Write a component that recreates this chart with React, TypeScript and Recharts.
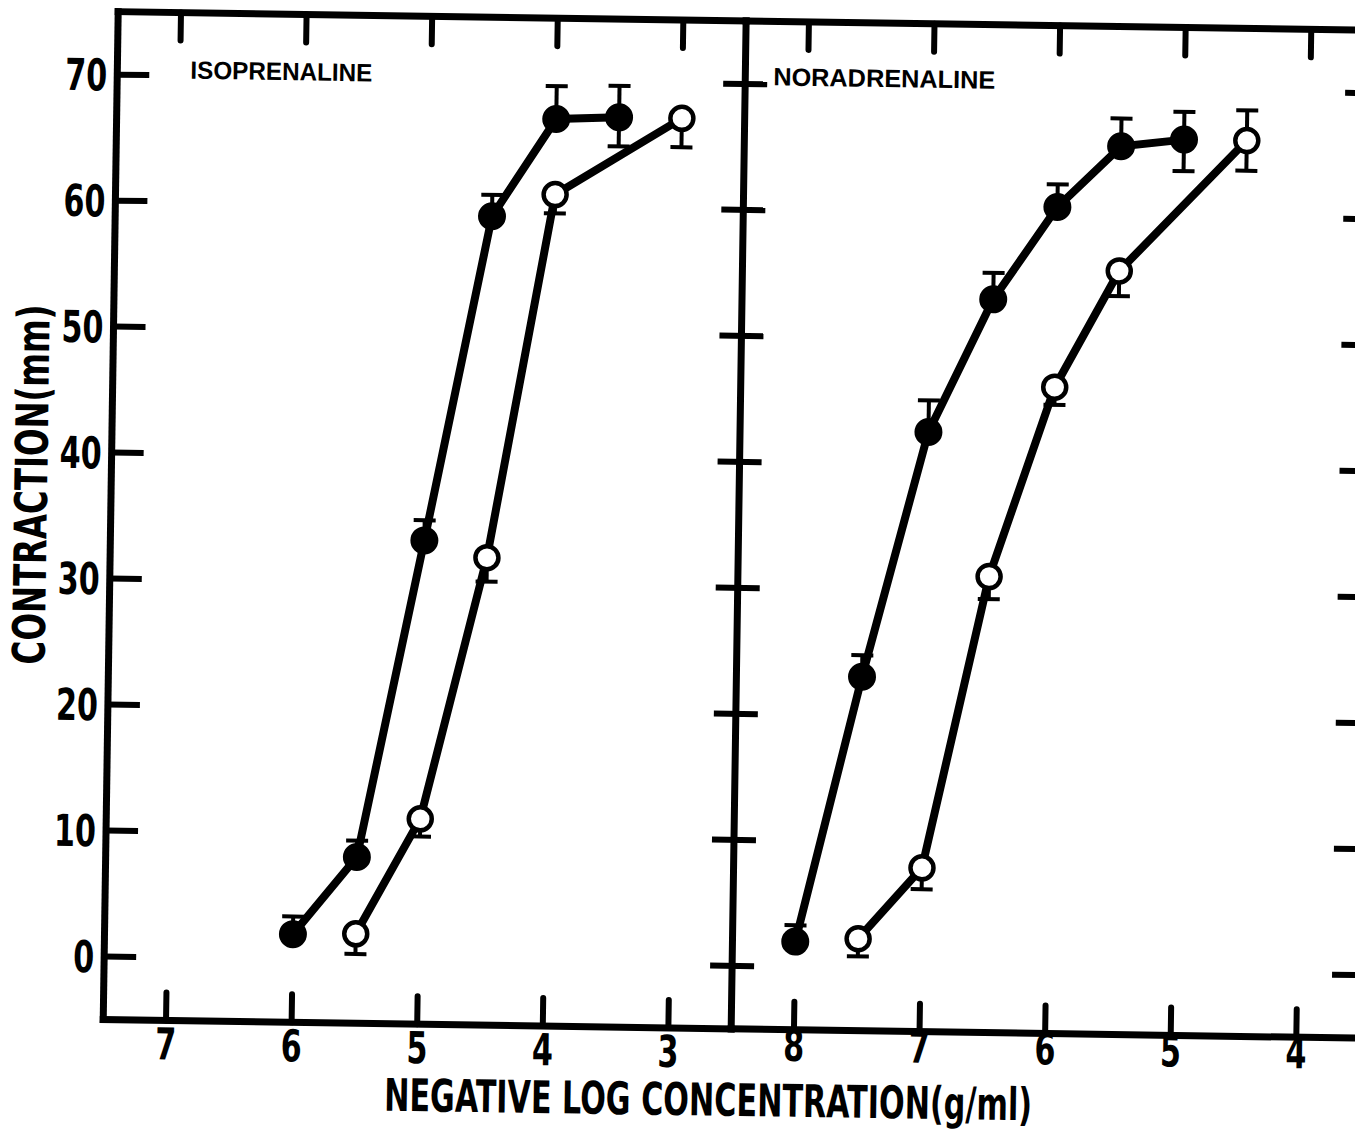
import React from "react";
import { LineChart, Line, XAxis, YAxis, ErrorBar } from "recharts";

// Isoprenaline panel (x = negative log concentration)
const isoFilledConc = [6, 5.5, 5, 4.5, 4, 3.5];
const isoFilledMean = [2.0, 8.2, 33.4, 59.2, 67.0, 67.2];
const isoFilledErrLow = [0, 0, 0, 0, 0, 2.3];
const isoFilledErrHigh = [1.4, 1.3, 1.6, 1.7, 2.6, 2.5];

const isoOpenConc = [5.5, 5, 4.5, 4, 3];
const isoOpenMean = [2.1, 11.3, 32.1, 61.0, 67.2];
const isoOpenErrLow = [1.6, 1.4, 1.9, 1.5, 2.3];
const isoOpenErrHigh = [0, 0, 0, 0, 0];

// Noradrenaline panel
const norFilledConc = [8, 7.5, 7, 6.5, 6, 5.5, 5];
const norFilledMean = [2.0, 23.1, 42.6, 53.2, 60.6, 65.5, 66.1];
const norFilledErrLow = [0, 0, 0, 0, 0, 0, 2.5];
const norFilledErrHigh = [1.3, 1.7, 2.5, 2.1, 1.8, 2.2, 2.2];

const norOpenConc = [7.5, 7, 6.5, 6, 5.5, 4.5];
const norOpenMean = [2.3, 8.0, 31.2, 46.3, 55.6, 66.1];
const norOpenErrLow = [1.4, 1.7, 1.8, 1.4, 2.0, 2.4];
const norOpenErrHigh = [0, 0, 0, 0, 0, 2.4];

const isoTicks = [7, 6, 5, 4, 3];
const norTicks = [8, 7, 6, 5, 4];
const yTicks = [0, 10, 20, 30, 40, 50, 60, 70];

type Pt = { x: number; y: number; err: [number, number] };

function rows(conc: number[], mean: number[], lo: number[], hi: number[]): Pt[] {
  return conc.map((c, i) => ({ x: c, y: mean[i], err: [lo[i], hi[i]] }));
}

const isoFilled = rows(isoFilledConc, isoFilledMean, isoFilledErrLow, isoFilledErrHigh);
const isoOpen = rows(isoOpenConc, isoOpenMean, isoOpenErrLow, isoOpenErrHigh);
const norFilled = rows(norFilledConc, norFilledMean, norFilledErrLow, norFilledErrHigh);
const norOpen = rows(norOpenConc, norOpenMean, norOpenErrLow, norOpenErrHigh);

const H = 1136;
const PLOT_TOP = 20;
const PLOT_BOTTOM = 1028;
const PANEL_W = 628;
const DIGIT_W = 21;

const AXIS = { stroke: "#000", strokeWidth: 7, strokeLinecap: "square" as const };
const numFont: React.CSSProperties = {
  fontFamily: "'DejaVu Sans Condensed', 'DejaVu Sans', sans-serif",
  fontWeight: 700,
  fontSize: 44,
};

function YLabelTick(props: any) {
  const { x, y, payload } = props;
  const label = String(payload.value);
  return (
    <g>
      <line x1={x} x2={x + 32} y1={y} y2={y} stroke="#000" strokeWidth={6} />
      <text
        x={x - 10}
        y={y + 16}
        textAnchor="end"
        textLength={label.length * DIGIT_W}
        lengthAdjust="spacingAndGlyphs"
        fill="#000"
        style={numFont}
      >
        {label}
      </text>
    </g>
  );
}

function YCrossTick(props: any) {
  const { x, y } = props;
  return <line x1={x - 22} x2={x + 22} y1={y} y2={y} stroke="#000" strokeWidth={6} />;
}

function YRightTick(props: any) {
  const { x, y } = props;
  return <line x1={x - 28} x2={x} y1={y} y2={y} stroke="#000" strokeWidth={6} />;
}

function makeBottomTick(labelDy: number) {
  return function XBottomTick(props: any) {
    const { x, y, payload } = props;
    const label = String(payload.value);
    return (
      <g>
        <line x1={x} x2={x} y1={y} y2={y - 28} stroke="#000" strokeWidth={6} strokeLinecap="round" />
        <text
          x={x}
          y={y + labelDy}
          textAnchor="middle"
          textLength={label.length * DIGIT_W}
          lengthAdjust="spacingAndGlyphs"
          fill="#000"
          style={numFont}
        >
          {label}
        </text>
      </g>
    );
  };
}
const LeftBottomTick = makeBottomTick(39);
const RightBottomTick = makeBottomTick(31);

function XTopTick(props: any) {
  const { x, y } = props;
  return <line x1={x} x2={x} y1={y} y2={y + 28} stroke="#000" strokeWidth={6} strokeLinecap="round" />;
}

const filledDot = { r: 14, fill: "#000", stroke: "#000", strokeWidth: 0 };
const openDot = { r: 11.5, fill: "#fff", stroke: "#000", strokeWidth: 4.5 };

function Series({ data, dot, id }: { data: Pt[]; dot: any; id: string }) {
  return (
    <Line
      key={id}
      xAxisId="b"
      yAxisId="l"
      data={data}
      dataKey="y"
      type="linear"
      stroke="#000"
      strokeWidth={8}
      dot={dot}
      activeDot={false}
      isAnimationActive={false}
    >
      <ErrorBar dataKey="err" direction="y" width={11} stroke="#000" strokeWidth={4} isAnimationActive={false} />
    </Line>
  );
}

function Panel({
  left,
  svgWidth,
  marginLeft,
  domain,
  ticks,
  filled,
  open,
  right,
}: {
  left: number;
  svgWidth: number;
  marginLeft: number;
  domain: [number, number];
  ticks: number[];
  filled: Pt[];
  open: Pt[];
  right: boolean;
}) {
  const BottomTick = right ? RightBottomTick : LeftBottomTick;
  // each axis takes 1px of room, so the margins are 1px smaller
  return (
    <div style={{ position: "absolute", left, top: 0 }}>
      <LineChart
        width={svgWidth}
        height={H}
        margin={{
          top: PLOT_TOP - 1,
          bottom: H - PLOT_BOTTOM - 1,
          left: marginLeft - 1,
          right: svgWidth - marginLeft - PANEL_W - (right ? 1 : 0),
        }}
      >
        <XAxis
          xAxisId="b"
          type="number"
          dataKey="x"
          domain={domain}
          reversed
          allowDataOverflow
          ticks={ticks}
          interval={0}
          orientation="bottom"
          height={1}
          tickSize={0}
          tickMargin={0}
          tickLine={false}
          axisLine={AXIS}
          tick={<BottomTick />}
        />
        <XAxis
          xAxisId="t"
          type="number"
          dataKey="x"
          domain={domain}
          reversed
          allowDataOverflow
          ticks={ticks}
          interval={0}
          orientation="top"
          height={1}
          tickSize={0}
          tickMargin={0}
          tickLine={false}
          axisLine={AXIS}
          tick={<XTopTick />}
        />
        <YAxis
          yAxisId="l"
          type="number"
          domain={[-5, 75]}
          allowDataOverflow
          ticks={yTicks}
          interval={0}
          width={1}
          tickSize={0}
          tickMargin={0}
          tickLine={false}
          axisLine={AXIS}
          tick={right ? <YCrossTick /> : <YLabelTick />}
        />
        {right && (
          <YAxis
            yAxisId="r"
            orientation="right"
            type="number"
            domain={[-5, 75]}
            allowDataOverflow
            ticks={yTicks}
            interval={0}
            width={1}
            tickSize={0}
            tickMargin={0}
            tickLine={false}
            axisLine={false}
            tick={<YRightTick />}
          />
        )}
        {Series({ data: filled, dot: filledDot, id: "filled" })}
        {Series({ data: open, dot: openDot, id: "open" })}
      </LineChart>
    </div>
  );
}

const titleFont: React.CSSProperties = {
  fontFamily: "'DejaVu Sans Condensed', 'DejaVu Sans', sans-serif",
  fontWeight: 700,
  fontSize: 45,
};
const panelFont: React.CSSProperties = {
  fontFamily: "'Liberation Sans', Arial, sans-serif",
  fontWeight: 700,
  fontSize: 25,
};

export default function App() {
  return (
    <div
      style={{
        position: "absolute",
        left: 0,
        top: 0,
        width: 1355,
        height: H,
        overflow: "hidden",
        background: "#fff",
      }}
    >
      <div
        style={{
          position: "absolute",
          left: 0,
          top: 0,
          width: 1355,
          height: H,
          transform: "rotate(0.85deg)",
          transformOrigin: "677px 568px",
        }}
      >
        <Panel
          left={0}
          svgWidth={745}
          marginLeft={110}
          domain={[2.5, 7.5]}
          ticks={isoTicks}
          filled={isoFilled}
          open={isoOpen}
          right={false}
        />
        <Panel
          left={698}
          svgWidth={700}
          marginLeft={40}
          domain={[3.5, 8.5]}
          ticks={norTicks}
          filled={norFilled}
          open={norOpen}
          right
        />
        <svg
          width={1355}
          height={H}
          style={{ position: "absolute", left: 0, top: 0, pointerEvents: "none" }}
        >
          <text
            transform="translate(30,494) rotate(-90)"
            x={0}
            y={16}
            textAnchor="middle"
            textLength={360}
            lengthAdjust="spacingAndGlyphs"
            fill="#000"
            style={titleFont}
          >
            CONTRACTION(mm)
          </text>
          <text
            x={716}
            y={1115}
            textAnchor="middle"
            textLength={648}
            lengthAdjust="spacingAndGlyphs"
            fill="#000"
            style={titleFont}
          >
            NEGATIVE LOG CONCENTRATION(g/ml)
          </text>
          <text x={183} y={86} textLength={182} lengthAdjust="spacingAndGlyphs" fill="#000" style={panelFont}>
            ISOPRENALINE
          </text>
          <text x={766} y={84} textLength={222} lengthAdjust="spacingAndGlyphs" fill="#000" style={panelFont}>
            NORADRENALINE
          </text>
        </svg>
      </div>
    </div>
  );
}
